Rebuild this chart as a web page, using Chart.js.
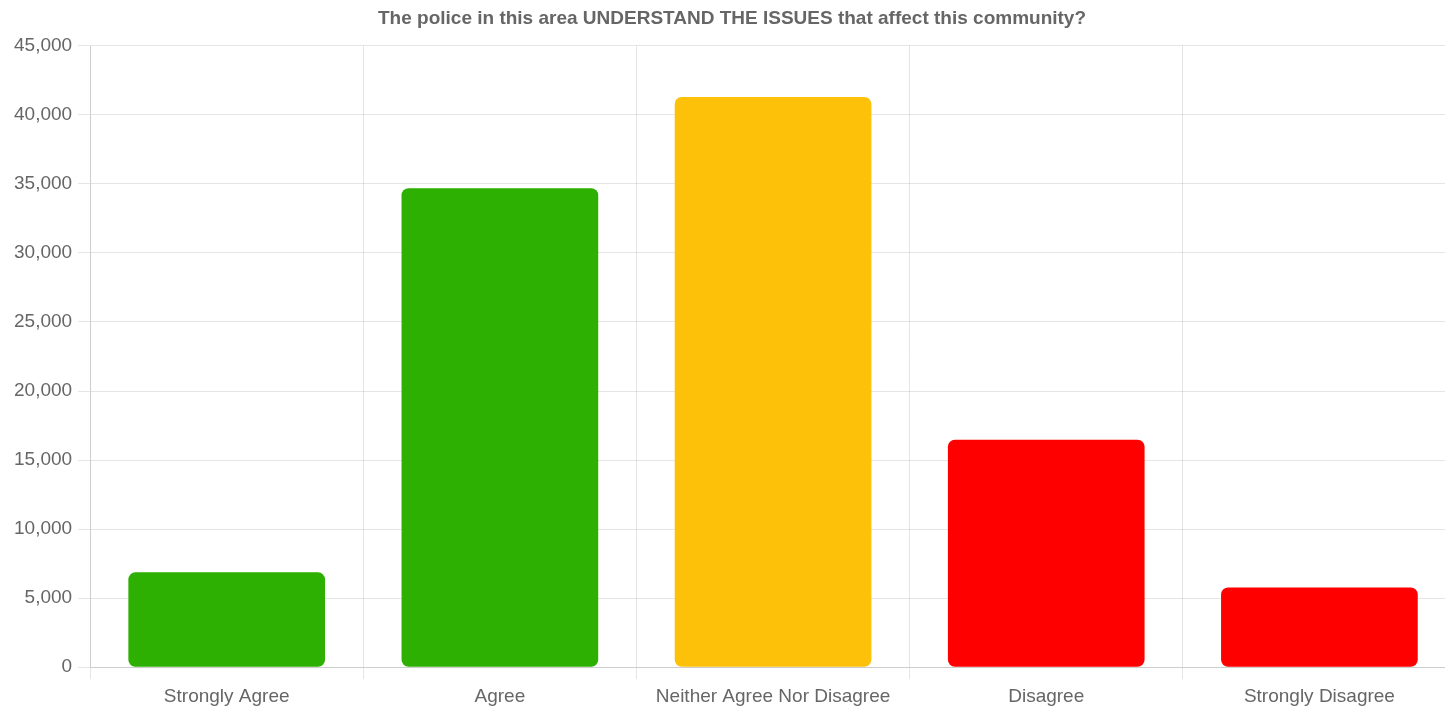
<!DOCTYPE html>
<html>
<head>
<meta charset="utf-8">
<script src="https://cdn.jsdelivr.net/npm/chart.js@4"></script>
<style>
  html, body { margin: 0; padding: 0; background: #fff; overflow: hidden; }
  #wrap { width: 1456px; height: 715px; position: relative; }
</style>
</head>
<body>
<div id="wrap"><canvas id="surveyChart"></canvas></div>
<script>
// survey answers
const categories = ['Strongly Agree', 'Agree', 'Neither Agree Nor Disagree', 'Disagree', 'Strongly Disagree'];
const responses = [6870, 34690, 41300, 16480, 5770];
const barColors = ['#2db002', '#2db002', '#fdc10a', '#ff0000', '#ff0000'];
const chartTitle = 'The police in this area UNDERSTAND THE ISSUES that affect this community?';

Chart.defaults.font.family = '"Liberation Sans", Arial, sans-serif';
Chart.defaults.color = '#666';

const ctx = document.getElementById('surveyChart').getContext('2d');
new Chart(ctx, {
    type: 'bar',
    data: {
        labels: categories,
        datasets: [{
            data: responses,
            backgroundColor: barColors,
            borderRadius: 7,
            borderSkipped: false,
        }]
    },
    options: {
        responsive: true,
        maintainAspectRatio: false,
        animation: false,
        layout: { padding: { left: 8, right: 0, top: 0, bottom: 1 } },
        plugins: {
            legend: { display: false },
            title: {
                display: true,
                text: chartTitle,
                font: { size: 19, weight: 'bold' },
                color: '#666',
                padding: { top: 7, bottom: 16 },
            },
        },
        scales: {
            x: {
                ticks: { font: { size: 19 }, color: '#666', padding: 6 },
                grid: { color: 'rgba(0,0,0,0.1)', tickLength: 12 },
            },
            y: {
                beginAtZero: true,
                min: 0,
                max: 45000,
                ticks: { stepSize: 5000, font: { size: 19 }, color: '#666', padding: 6 },
                grid: { color: 'rgba(0,0,0,0.1)', tickLength: 12 },
            },
        },
    },
});
</script>
</body>
</html>
